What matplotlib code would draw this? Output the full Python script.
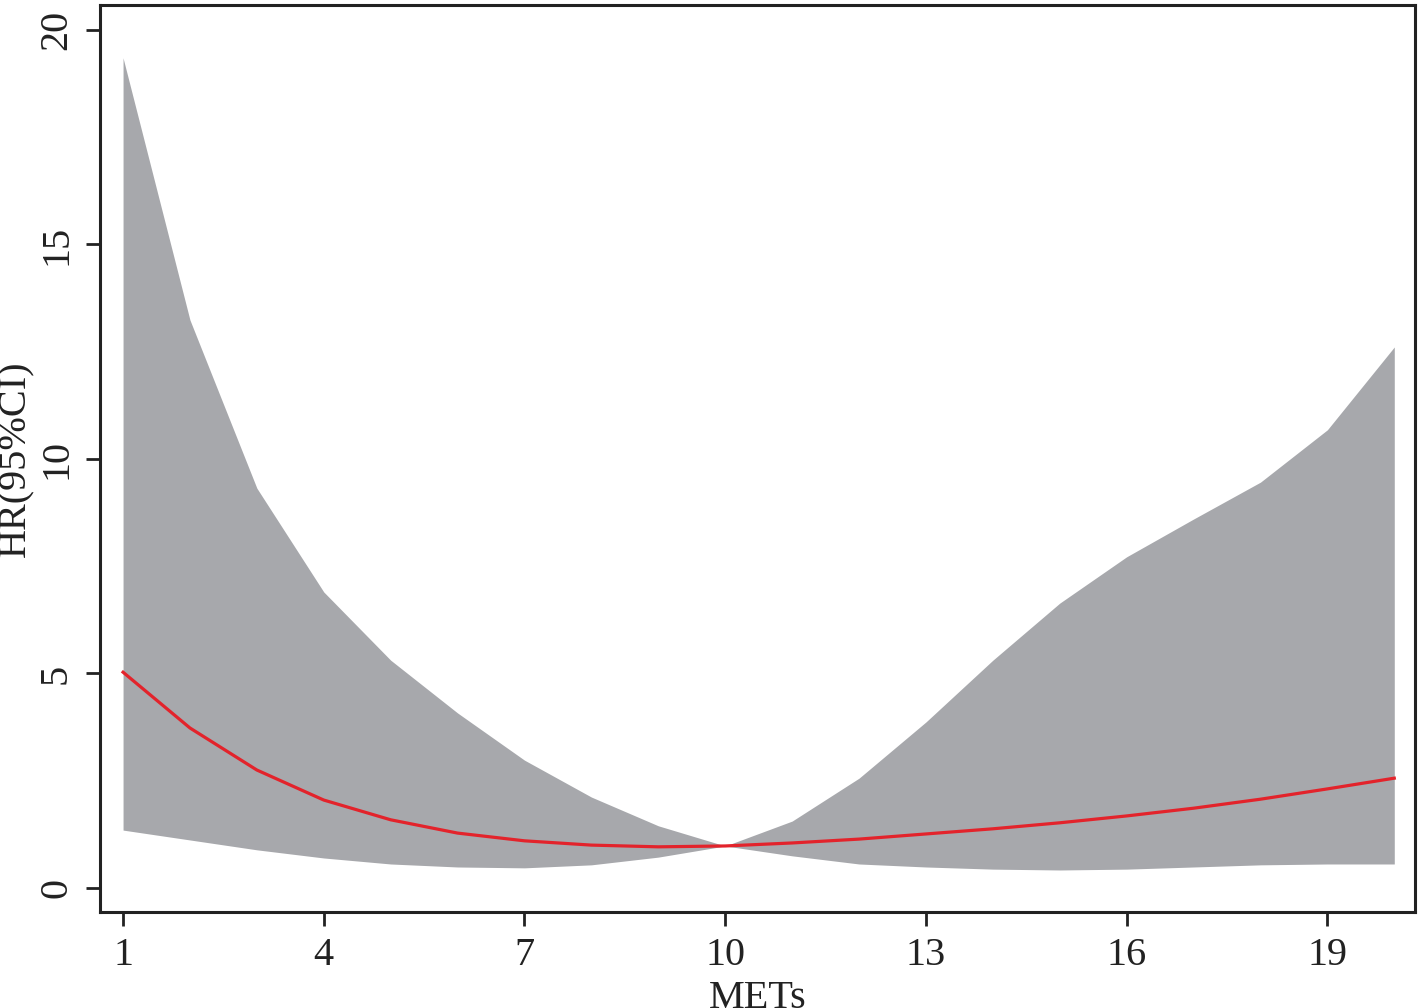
import matplotlib
matplotlib.use("Agg")
import matplotlib.pyplot as plt

# METs vs hazard ratio with 95% CI band
mets = [1, 2, 3, 4, 5, 6, 7, 8, 9, 10, 11, 12, 13, 14, 15, 16, 17, 18, 19, 20]
hr = [5.03, 3.73, 2.75, 2.05, 1.59, 1.28, 1.10, 1.00, 0.96, 0.98,
      1.05, 1.14, 1.26, 1.38, 1.52, 1.68, 1.86, 2.07, 2.31, 2.56]
ci_upper = [19.35, 13.24, 9.32, 6.90, 5.31, 4.08, 2.98, 2.12, 1.45, 0.98,
            1.56, 2.56, 3.87, 5.31, 6.64, 7.72, 8.60, 9.46, 10.68, 12.61]
ci_lower = [1.35, 1.12, 0.89, 0.70, 0.56, 0.49, 0.47, 0.54, 0.72, 0.98,
            0.75, 0.56, 0.49, 0.44, 0.42, 0.44, 0.49, 0.54, 0.56, 0.56]
x_ticks = [1, 4, 7, 10, 13, 16, 19]
y_ticks = [0, 5, 10, 15, 20]

plt.rcParams["font.family"] = ["Liberation Serif", "DejaVu Serif"]
axis_color = "#222222"

fig = plt.figure(figsize=(14.21, 10.08), dpi=100)
ax = fig.add_axes([0.0704, 0.0952, 0.9254, 0.8998])

ax.fill_between(mets, ci_lower, ci_upper, color="#A7A8AC", linewidth=0)
ax.plot(mets, hr, color="#E3232B", linewidth=2.3)

ax.set_xlim(0.656, 20.31)
ax.set_ylim(-0.56, 20.58)
ax.set_xticks(x_ticks)
ax.set_yticks(y_ticks)
ax.tick_params(axis="both", direction="out", length=10, width=2,
               colors=axis_color, labelsize=29, pad=8)
for lbl in ax.get_yticklabels():
    lbl.set_rotation(90)
    lbl.set_va("center")
for spine in ax.spines.values():
    spine.set_color(axis_color)
    spine.set_linewidth(2.2)

ax.set_xlabel("METs", fontsize=29, color=axis_color)
ax.set_ylabel("HR(95%CI)", fontsize=29, color=axis_color)
# pin the axis titles where the original has them
ax.xaxis.set_label_coords(0.5, -0.075)
ax.yaxis.set_label_coords(-0.050, 0.5)

fig.savefig("out.png", dpi=100)
